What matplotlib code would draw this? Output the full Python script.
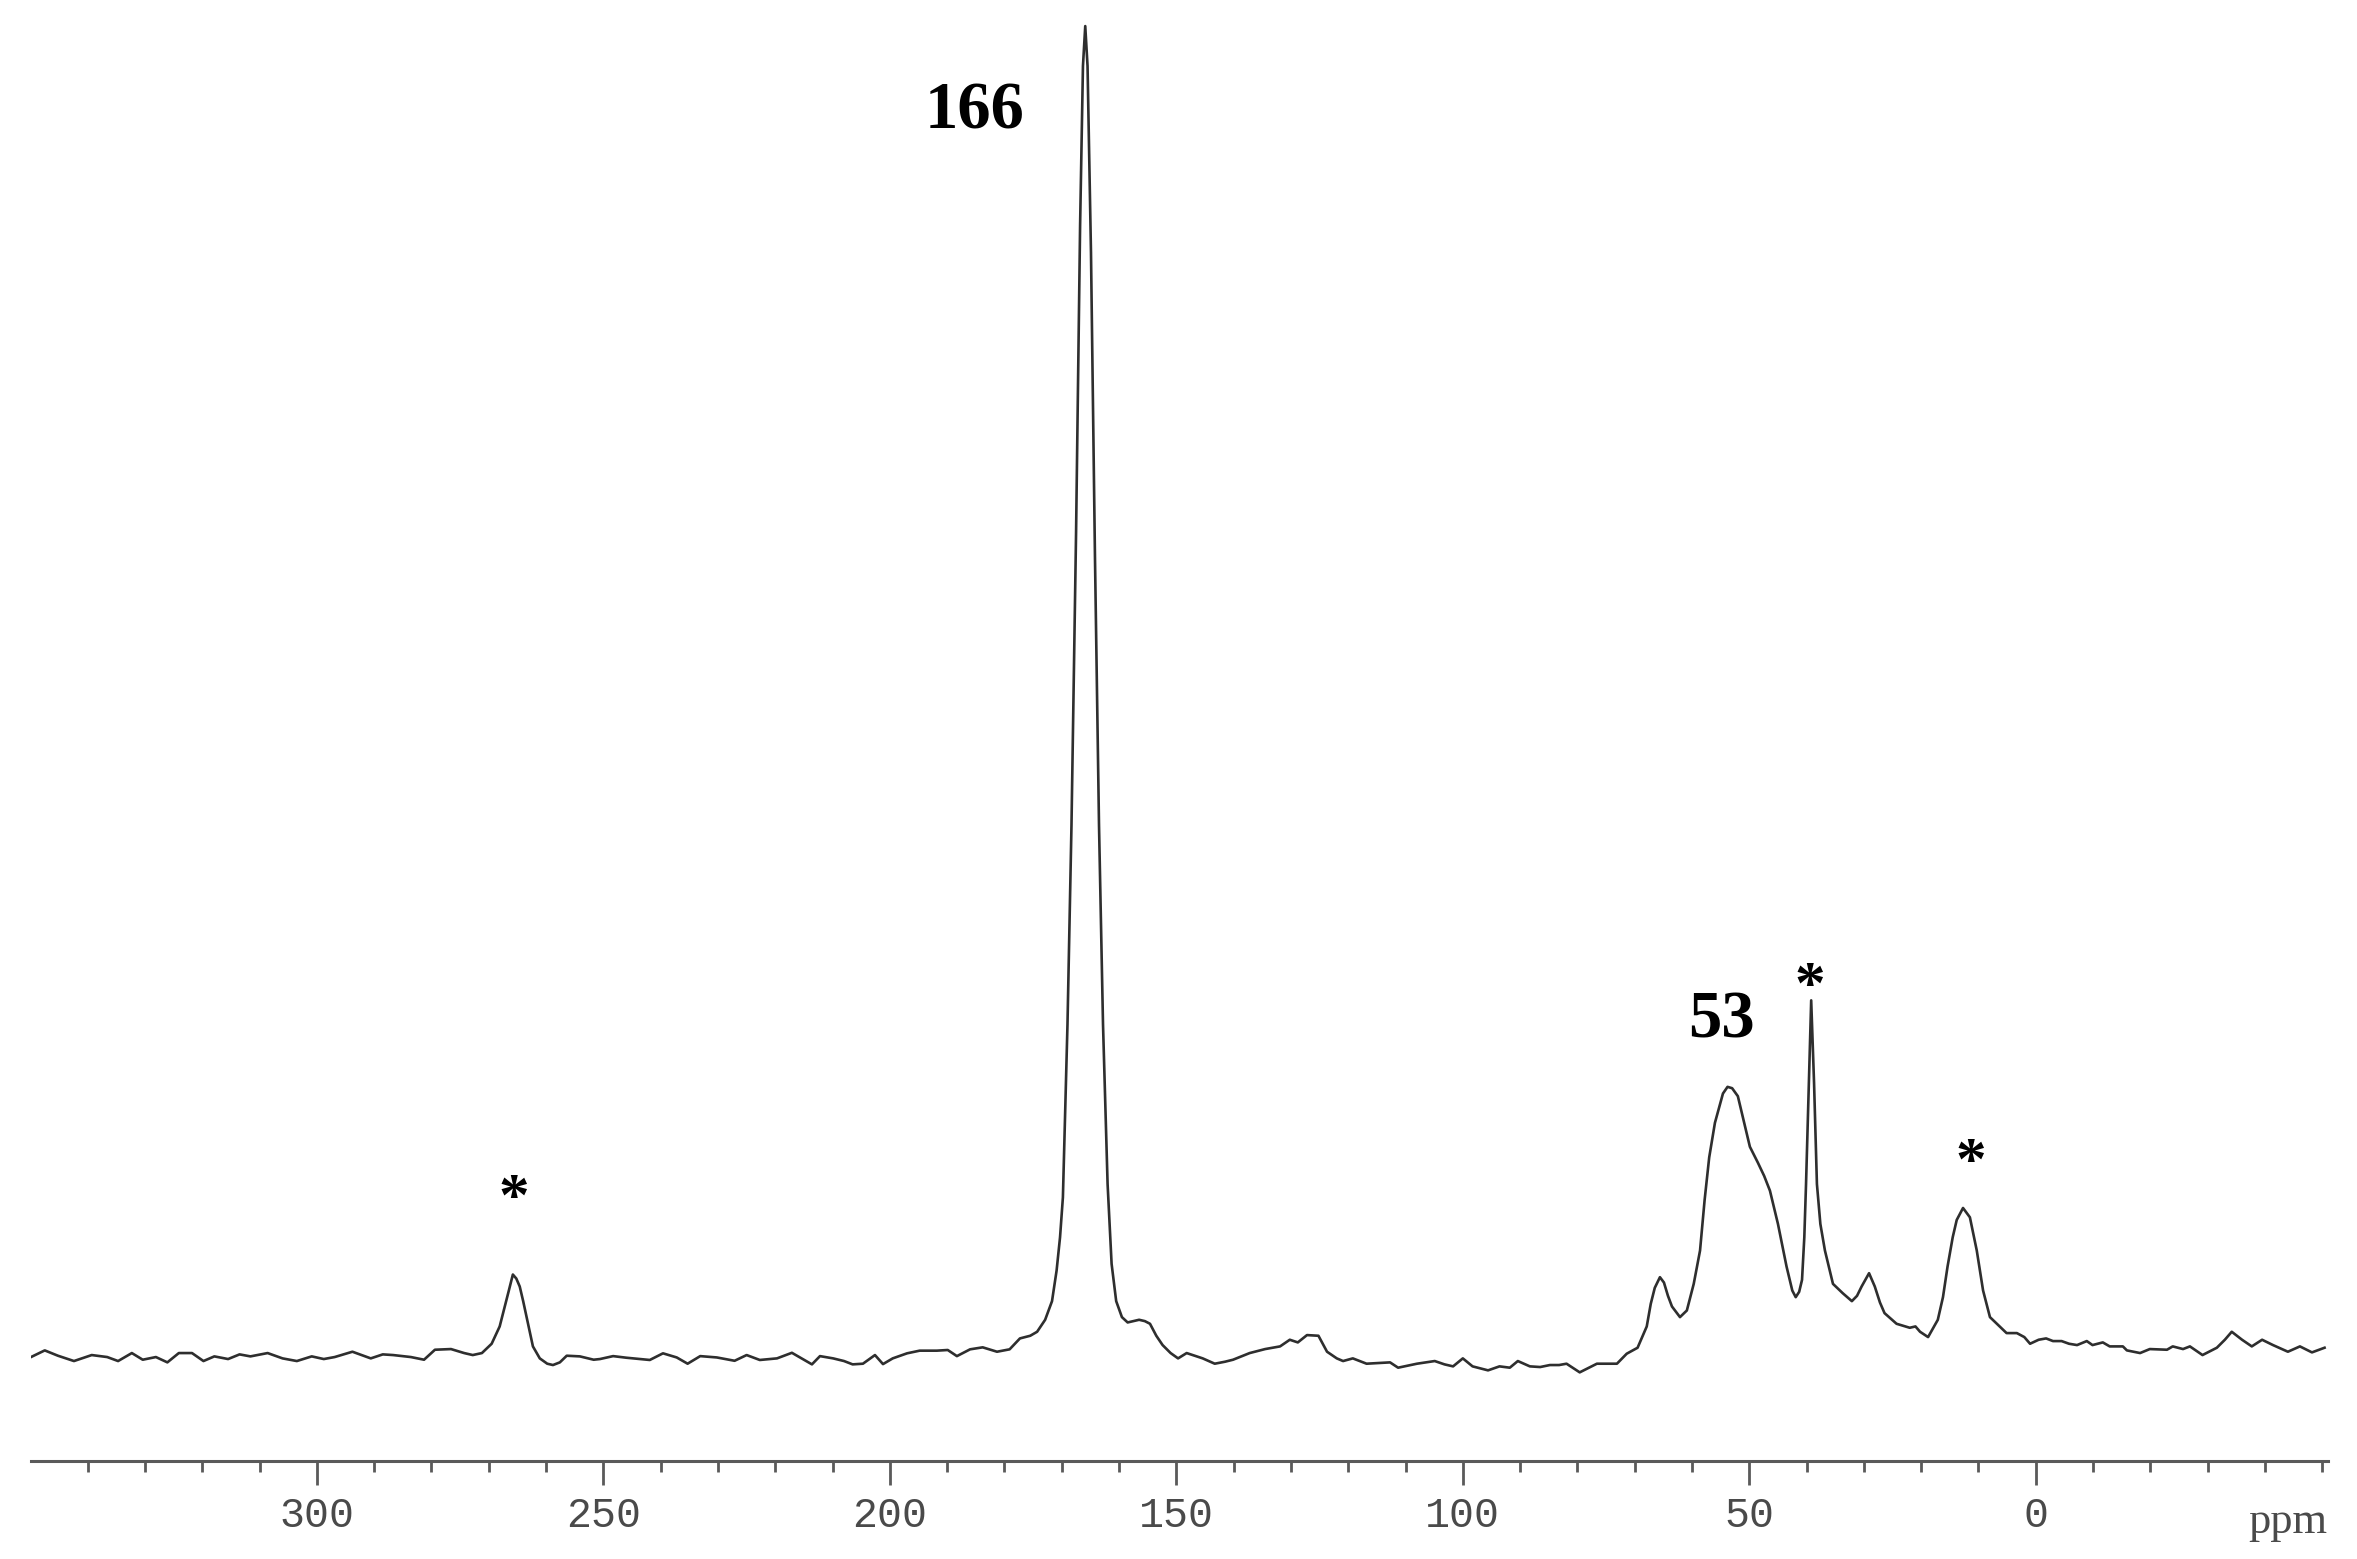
import matplotlib
matplotlib.use("Agg")
import matplotlib.pyplot as plt
from matplotlib.ticker import MultipleLocator

# chemical shift (ppm) and intensity (166 ppm peak = 100)
ppm = [
    349.9, 347.5, 345.2, 342.4, 339.3, 336.6, 334.7, 332.3, 330.4, 328.1,
    326.1, 324.1, 321.8, 319.8, 317.9, 315.5, 313.5, 311.6, 308.6, 306.0,
    303.5, 300.9, 298.8, 296.9, 293.8, 290.6, 288.5, 286.7, 283.6, 281.3,
    279.4, 276.6, 274.3, 272.8, 271.2, 269.5, 268.1, 267.2, 266.5, 265.8,
    265.2, 264.6, 264.0, 263.4, 262.8, 262.3, 261.1, 259.8, 258.8, 257.6,
    256.4, 254.1, 251.7, 250.6, 248.3, 246.0, 244.8, 241.9, 239.6, 237.2,
    235.3, 233.1, 230.2, 227.1, 225.0, 222.7, 219.7, 217.1, 215.7, 213.6,
    212.2, 209.9, 208.0, 206.5, 204.7, 202.6, 201.2, 199.5, 197.0, 194.8,
    191.8, 189.9, 188.3, 186.0, 183.8, 181.3, 179.1, 177.3, 175.5, 174.3,
    172.9, 171.7, 170.9, 170.3, 169.8, 169.0, 168.3, 167.5, 166.8, 166.3,
    165.9, 165.5, 164.9, 164.2, 163.5, 162.8, 162.0, 161.3, 160.5, 159.5,
    158.5, 157.5, 156.5, 155.5, 154.6, 153.5, 152.4, 151.0, 149.7, 148.2,
    146.8, 145.4, 143.3, 141.5, 140.1, 137.2, 134.5, 131.9, 130.2, 128.8,
    127.2, 125.2, 123.7, 122.0, 120.9, 119.2, 116.8, 114.8, 112.7, 111.3,
    108.0, 104.9, 103.2, 101.7, 100.0, 98.3, 95.6, 93.6, 91.8, 90.4,
    88.3, 86.5, 84.8, 83.2, 81.9, 79.6, 78.0, 76.6, 74.8, 73.1,
    71.4, 69.5, 68.2, 67.9, 67.2, 66.5, 65.6, 64.9, 64.2, 63.5,
    62.1, 60.9, 59.7, 58.6, 57.8, 57.0, 56.0, 54.6, 53.8, 53.0,
    52.0, 51.0, 49.9, 48.5, 47.4, 46.4, 45.0, 43.5, 42.5, 41.9,
    41.3, 40.8, 40.4, 40.1, 39.6, 39.2, 38.7, 38.2, 37.6, 36.8,
    35.4, 33.7, 32.1, 31.2, 30.4, 29.1, 28.1, 27.2, 26.4, 24.3,
    22.0, 21.0, 20.2, 18.8, 17.1, 16.2, 15.4, 14.5, 13.8, 12.7,
    11.5, 10.3, 9.2, 8.0, 6.3, 5.1, 3.3, 2.0, 1.0, -0.5,
    -1.8, -3.0, -4.5, -5.8, -7.2, -8.9, -9.9, -11.7, -12.9, -15.2,
    -15.9, -18.2, -19.9, -22.9, -23.9, -25.7, -26.9, -29.1, -31.6, -33.0,
    -34.2, -36.0, -37.7, -39.5, -41.4, -44.0, -46.1, -48.2, -50.4,
]
intensity = [
    0.0, 0.5, 0.1, -0.3, 0.15, 0.0, -0.3, 0.3, -0.2, 0.0,
    -0.4, 0.3, 0.3, -0.3, 0.05, -0.15, 0.2, 0.05, 0.3, -0.1,
    -0.3, 0.05, -0.15, 0.0, 0.4, -0.1, 0.2, 0.15, 0.0, -0.2,
    0.55, 0.6, 0.3, 0.15, 0.3, 1.0, 2.3, 3.8, 5.0, 6.2,
    5.9, 5.3, 4.2, 3.0, 1.8, 0.8, -0.1, -0.5, -0.6, -0.4,
    0.1, 0.05, -0.2, -0.15, 0.07, -0.05, -0.1, -0.22, 0.28, -0.03,
    -0.5, 0.07, -0.03, -0.28, 0.15, -0.22, -0.1, 0.32, -0.03, -0.55,
    0.07, -0.1, -0.3, -0.55, -0.5, 0.15, -0.53, -0.1, 0.28, 0.48,
    0.48, 0.53, 0.07, 0.58, 0.73, 0.4, 0.58, 1.4, 1.6, 1.9,
    2.8, 4.2, 6.5, 9.0, 12.0, 25.0, 40.0, 62.0, 85.0, 97.0,
    100.0, 97.0, 83.0, 60.0, 40.0, 25.0, 13.0, 7.0, 4.2, 3.0,
    2.6, 2.7, 2.8, 2.7, 2.5, 1.6, 0.9, 0.3, -0.1, 0.3,
    0.1, -0.1, -0.5, -0.35, -0.2, 0.3, 0.6, 0.8, 1.3, 1.1,
    1.65, 1.6, 0.4, -0.1, -0.3, -0.1, -0.5, -0.45, -0.4, -0.8,
    -0.5, -0.3, -0.55, -0.7, -0.1, -0.7, -1.0, -0.7, -0.8, -0.3,
    -0.7, -0.75, -0.6, -0.6, -0.5, -1.15, -0.8, -0.5, -0.5, -0.5,
    0.25, 0.7, 2.0, 2.3, 4.0, 5.2, 6.0, 5.6, 4.6, 3.8,
    3.0, 3.5, 5.5, 8.0, 11.8, 15.0, 17.6, 19.8, 20.3, 20.2,
    19.6, 17.8, 15.8, 14.6, 13.6, 12.5, 10.0, 6.8, 5.0, 4.5,
    4.9, 5.8, 9.0, 13.0, 20.6, 26.8, 20.6, 13.0, 10.0, 8.0,
    5.5, 4.8, 4.2, 4.6, 5.3, 6.3, 5.3, 4.1, 3.3, 2.5,
    2.2, 2.3, 1.9, 1.5, 2.8, 4.5, 6.8, 9.0, 10.3, 11.2,
    10.5, 8.0, 5.0, 3.0, 2.3, 1.8, 1.8, 1.5, 1.0, 1.3,
    1.4, 1.2, 1.2, 1.0, 0.9, 1.2, 0.9, 1.1, 0.8, 0.8,
    0.5, 0.3, 0.6, 0.55, 0.8, 0.6, 0.8, 0.15, 0.7, 1.3,
    1.9, 1.3, 0.8, 1.3, 0.9, 0.4, 0.8, 0.35, 0.7,
]

# peak labels: (text, ppm, intensity at text baseline)
peak_labels = [("166", 185.2, 92.3), ("53", 54.8, 24.0)]
# spinning sidebands marked with asterisks
sideband_marks = [(265.6, 10.7), (39.4, 26.6), (11.3, 13.4)]

major_ticks = [300, 250, 200, 150, 100, 50, 0]

fig = plt.figure(figsize=(23.57, 15.59), dpi=100)
ax = fig.add_axes([31 / 2357, 1 - 1461 / 1559, 2297 / 2357, 1461 / 1559])

ax.plot(ppm, intensity, color="#2e2e2e", linewidth=1.9)

ax.set_xlim(349.9, -51.0)
ax.set_ylim(-7.81, 101.96)

for side in ["left", "right", "top"]:
    ax.spines[side].set_visible(False)
ax.spines["bottom"].set_color("#5a5a5a")
ax.spines["bottom"].set_linewidth(2.2)
ax.set_yticks([])

ax.set_xticks(major_ticks)
ax.set_xticklabels([str(t) for t in major_ticks])
ax.xaxis.set_minor_locator(MultipleLocator(10))
ax.tick_params(axis="x", which="major", length=17, width=2, color="#5a5a5a",
               pad=8, labelsize=30, labelcolor="#4a4a4a")
ax.tick_params(axis="x", which="minor", length=8, width=2, color="#5a5a5a")
for lab in ax.get_xticklabels():
    lab.set_family("Liberation Mono")

fig.text(2327 / 2357, 1 - 1533 / 1559, "ppm", ha="right", va="baseline",
         fontsize=32, family="Liberation Serif", color="#4a4a4a")

for txt, x, y in peak_labels:
    ax.text(x, y, txt, ha="center", va="baseline", fontsize=48,
            fontweight="bold", family="Liberation Serif", color="black")

for x, y in sideband_marks:
    ax.text(x, y, "*", ha="center", va="baseline", fontsize=44,
            fontweight="bold", family="Liberation Serif", color="black")

fig.savefig("out.png", dpi=100, facecolor="white")
